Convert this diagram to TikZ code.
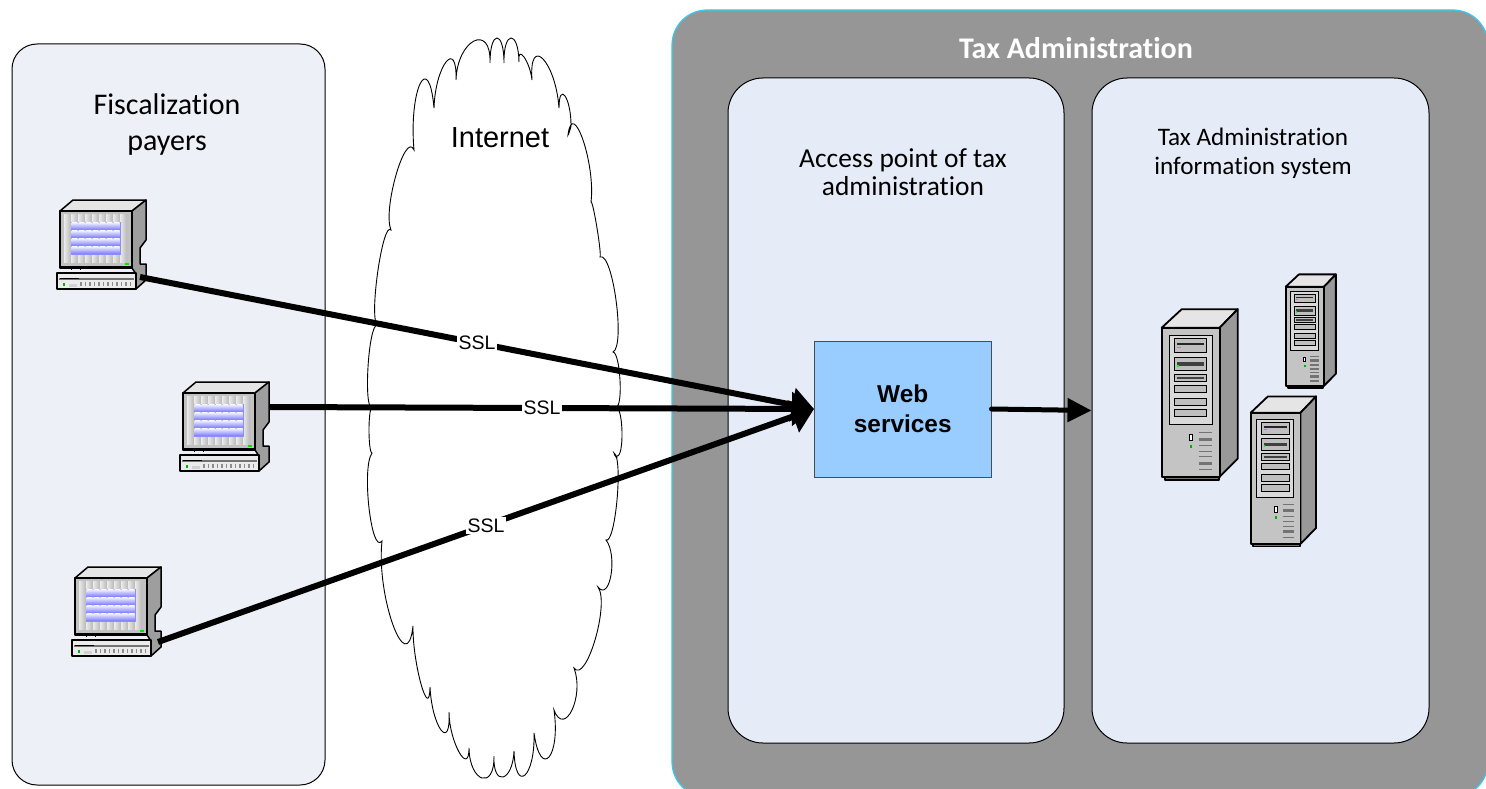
\documentclass[tikz,border=0pt]{standalone}
\usepackage{fontspec}
\setmainfont[Ligatures=NoCommon]{Carlito}
\newfontfamily\arialfont{Liberation Sans}
\usetikzlibrary{arrows.meta,positioning}
\definecolor{panelgray}{HTML}{969696}
\definecolor{panelblue}{HTML}{E6ECF7}
\definecolor{payerblue}{HTML}{EDF0F6}
\definecolor{webblue}{HTML}{99CCFF}
\definecolor{rimcyan}{HTML}{33CCEE}
\tikzstyle{panel} = [draw, fill=panelblue, line width=1pt, rounded corners=35pt, inner sep=0pt]
\tikzstyle{titletext} = [align=center, inner sep=0pt, text=black]
\tikzstyle{ssltext} = [fill=white, inner sep=1.5pt, midway, font=\arialfont\fontsize{19.5}{22}\selectfont]
\tikzstyle{arrow} = [draw, line width=6pt, -{Triangle[length=22pt,width=33pt]}]
\tikzstyle{pcline} = [draw=black, line width=1.5pt, line join=round]
\tikzstyle{srvline} = [draw=black, line width=1.8pt, line join=round]
\tikzset{
  computer/.pic={
    \path [pcline, fill=black!10] (20,21) -- (33,10) -- (106,10) -- (92,21) -- cycle;
    \path [pcline, fill=black!38] (92,21) -- (106,10) -- (106,50) -- (100,58) -- (100,74) -- (106,74) -- (106,90) -- (96,99) -- (96,84) -- (92,78) -- cycle;
    \path [pcline, fill=black!24] (20,21) rectangle (92,78);
    \foreach \col in {-1,...,7} \foreach \row in {-1,...,4}
      \path [left color=black!8, right color=black!28] ({31+7*\col},{32+8*\row}) rectangle ({38+7*\col},{40+8*\row});
    \path [fill=blue!45] (31,32) rectangle (81,65);
    \foreach \col in {0,...,6} \foreach \row in {0,...,3}
      \path [shading=axis, shading angle=45, top color=blue!5, bottom color=blue!50] ({31.5+7*\col},{32.5+8*\row}) rectangle ({37.5+7*\col},{39.5+8*\row});
    \path [fill=green!90!black] (85,73) rectangle (89,75);
    \path [draw=black, line width=0.8pt] (20,76) -- (92,76) (31,76) -- (31,80) (40,76) -- (40,80);
    \path [pcline, fill=black!8] (17,83) rectangle (96,99);
    \path [fill=black!55] (19,87.5) rectangle (94,89.5);
    \path [fill=black] (20,87.5) rectangle (39,89);
    \path [fill=green!70!black] (22.5,93) rectangle (24.5,96);
    \path [fill=black!18] (29,94) rectangle (37,97);
    \foreach \col in {0,...,11}
      \path [fill=black!45] ({40+4.5*\col},92) rectangle ({41.5+4.5*\col},96);
  },
  server/.pic={
    \path [srvline, fill=black!55] (3,149) rectangle (57,152);
    \path [srvline, fill=black!10] (0,0) -- (20,-18.5) -- (76,-18.5) -- (58,0) -- cycle;
    \path [srvline, fill=black!40] (58,0) -- (76,-18.5) -- (76,131) -- (58,149) -- cycle;
    \path [srvline, fill=black!23] (0,0) rectangle (58,149);
    \path [draw=black, line width=1pt, fill=black!15] (7.3,7.3) rectangle (50.3,96.3);
    \foreach \ya/\yb in {11/24.3,29.7/43,46.3/54,57.3/65,70.3/78,81.3/89}
      \path [draw=black, line width=1pt, fill=black!25] (12.7,\ya) rectangle (45,\yb);
    \path [fill=black!85] (15,15) rectangle (42,17);
    \path [fill=green] (15,19) rectangle (19,20);
    \path [fill=black!75] (15,34) rectangle (42,38);
    \path [fill=green] (15,37) rectangle (17,39);
    \path [fill=black!75] (15,49) rectangle (42,51);
    \foreach \yb/\wb in {104.7/1.2,111.3/3,117.7/1.2,123.7/1.2,129/1.2,135.3/3,141.7/1.2}
      \path [draw=black!55, line width=\wb pt] (37.3,\yb) -- (50,\yb);
    \path [draw=black, line width=0.8pt, fill=white] (27.5,107) rectangle (30.5,113);
    \path [fill=green!70!black] (27.8,117.5) rectangle (30.2,120.5);
  }
}

\begin{document}
\begin{tikzpicture}[x=1pt,y=-1pt]
\useasboundingbox (0,0) rectangle (1486,789);
\clip (0,0) rectangle (1486,789);

% panels
\node (payers) [panel, fill=payerblue, rounded corners=25pt, minimum width=313pt, minimum height=741pt] at (168.5,414.5) {};
\node (taxadmin) [draw=rimcyan, fill=panelgray, line width=1.2pt, rounded corners=35pt, inner sep=0pt, minimum width=816pt, minimum height=787pt] at (1080,403.5) {};
\node (access) [panel, minimum width=336pt, minimum height=665pt] at (896,410.5) {};
\node (system) [panel, minimum width=337pt, minimum height=665pt] at (1260.5,410.5) {};

% cloud
\path [draw=black, fill=white, line width=0.9pt] (377,325)
  \foreach \tx/\ty/\bx/\by [remember=\bx as \ax (initially 377), remember=\by as \ay (initially 325)] in {
    378/270/391/230, 396/175/414/150, 420/84/434/108, 446/62/456/80, 474/41/490/63,
    497/38/504/63, 511/38/519/62, 524/57/532/80, 543/59/559/108, 565/96/571/125,
    570/130/568/135, 583/140/591/202, 597/228/600/257, 616/300/613/352, 620/380/616/407,
    622/432/617/456, 616/457/614/453, 617/500/606/540, 611/575/598/587, 595/640/574/668,
    572/710/554/710, 549/757/534/733, 525/775/514/751, 503/777/494/756, 482/778/469/748,
    459/752/449/712, 441/730/430/687, 421/684/413/626, 393/625/382/541, 369/508/372/453,
    369/430/372/408, 368/367/377/325}
  { .. controls ({\ax+1.333*(\tx-(\ax+\bx)/2)},{\ay+1.333*(\ty-(\ay+\by)/2)})
           and ({\bx+1.333*(\tx-(\ax+\bx)/2)},{\by+1.333*(\ty-(\ay+\by)/2)}) .. (\bx,\by) } -- cycle;

% texts
\node (payerstitle) [titletext, font=\fontsize{30}{36}\selectfont] at (167,125) {Fiscalization\\payers};
\node (internet) [titletext, font=\arialfont\fontsize{29}{34}\selectfont] at (500,138) {Internet};
\node (taxtitle) [titletext, text=white, font=\bfseries\fontsize{30}{34}\selectfont] at (1076,48) {Tax Administration};
\node (accesstitle) [titletext, font=\fontsize{27.4}{28.5}\selectfont] at (903,172) {Access point of tax\\administration};
\node (systemtitle) [titletext, font=\fontsize{25.2}{29}\selectfont] at (1253,153) {Tax Administration\\information system};

% web services
\node (web) [draw=black!70, fill=webblue, line width=1pt, align=center, inner sep=0pt, minimum width=176.5pt, minimum height=136pt, font=\arialfont\bfseries\fontsize{24.4}{29.5}\selectfont] at (902.75,409) {Web\\services};

% computers and servers
\pic at (40,190) {computer};
\pic at (163,372) {computer};
\pic at (55,557) {computer};
\pic at (1161.7,327.7) {server};
\pic [xscale=0.66, yscale=0.665] at (1285.7,286.7) {server};
\pic [xscale=0.86, yscale=0.88] at (1250.7,412.7) {server};

\coordinate (pc1) at (140,277);
\coordinate (pc2) at (270,407);
\coordinate (pc3) at (158,642);

% connectors
\path [arrow] (pc3) -- (web.west) node[ssltext] (ssl3) {SSL};
\path [arrow] (pc1) -- (web.west) node[ssltext] (ssl1) {SSL};
\path [arrow] (pc2) -- (web.west) node[ssltext] (ssl2) {SSL};
\path [draw, line width=5pt, line cap=round, -{Triangle[length=24pt,width=23pt]}] (web.east) -- (system.west);
\end{tikzpicture}
\end{document}
